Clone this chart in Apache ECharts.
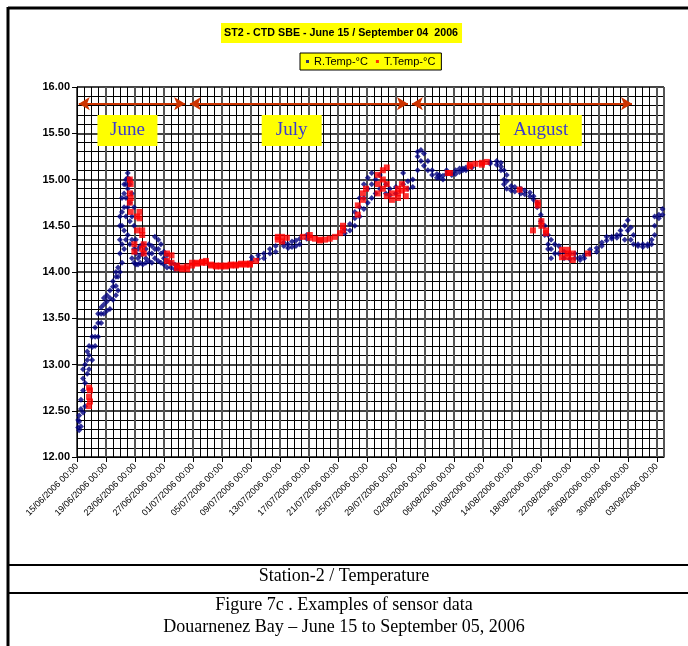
<!DOCTYPE html>
<html>
<head>
<meta charset="utf-8">
<script src="https://cdn.jsdelivr.net/npm/echarts@6/dist/echarts.min.js"></script>
<style>
html,body{margin:0;padding:0;background:#fff;}
#c{width:688px;height:646px;}
</style>
</head>
<body>
<div id="c"></div>
<script>
// ---- axis / labels ----
const startDate = '2006-06-15 00:00';
const endDate = '2006-09-04 00:00';
const yTicks = [12.0, 12.5, 13.0, 13.5, 14.0, 14.5, 15.0, 15.5, 16.0];
const seriesNames = ['R.Temp-°C', 'T.Temp-°C'];

// ---- R.Temp (blue) ----
const rTempTimes = [
 '2006-06-15 04:00','2006-06-15 07:00','2006-06-15 13:00','2006-06-15 20:00','2006-06-16 03:00','2006-06-16 10:00',
 '2006-06-16 16:00','2006-06-17 02:00','2006-06-17 12:00','2006-06-17 22:00','2006-06-18 08:00',
 '2006-06-18 17:00','2006-06-19 03:00','2006-06-19 13:00','2006-06-19 23:00','2006-06-20 09:00',
 '2006-06-20 16:00','2006-06-20 22:00','2006-06-21 05:00','2006-06-21 12:00','2006-06-21 18:00',
 '2006-06-22 00:00','2006-06-22 07:00','2006-06-22 14:00','2006-06-22 21:00','2006-06-23 03:00',
 '2006-06-23 10:00','2006-06-23 17:00','2006-06-24 02:00','2006-06-24 12:00','2006-06-24 22:00',
 '2006-06-25 08:00','2006-06-25 18:00','2006-06-26 05:00','2006-06-26 14:00','2006-06-27 00:00',
 '2006-06-27 10:00','2006-06-27 23:00','2006-06-28 12:00','2006-06-28 22:00',
 '2006-07-09 03:00','2006-07-10 00:00','2006-07-10 19:00','2006-07-11 15:00','2006-07-12 10:00',
 '2006-07-13 13:00','2006-07-14 03:00','2006-07-14 16:00','2006-07-15 05:00','2006-07-15 18:00','2006-07-16 17:00','2006-07-21 23:00',
 '2006-07-22 16:00','2006-07-23 08:00','2006-07-24 00:00','2006-07-24 14:00','2006-07-25 03:00',
 '2006-07-25 16:00','2006-07-26 05:00','2006-07-26 19:00','2006-07-27 15:00','2006-07-28 04:00',
 '2006-07-29 00:00','2006-07-30 00:00','2006-07-30 16:00','2006-07-31 08:00','2006-08-01 00:00',
 '2006-08-01 11:00','2006-08-01 21:00','2006-08-02 10:00','2006-08-03 00:00','2006-08-03 16:00',
 '2006-08-04 00:00','2006-08-04 12:00','2006-08-05 00:00','2006-08-05 17:00','2006-08-06 06:00','2006-08-06 19:00','2006-08-07 06:00','2006-08-07 16:00','2006-08-08 12:00',
 '2006-08-11 00:00','2006-08-11 22:00','2006-08-12 12:00','2006-08-12 22:00','2006-08-13 07:00',
 '2006-08-13 22:00','2006-08-14 10:00','2006-08-15 06:00','2006-08-15 19:00','2006-08-16 12:00','2006-08-17 00:00',
 '2006-08-17 12:00','2006-08-18 00:00','2006-08-18 13:00','2006-08-19 00:00','2006-08-19 10:00',
 '2006-08-19 22:00','2006-08-20 12:00','2006-08-21 05:00','2006-08-22 00:00','2006-08-22 17:00',
 '2006-08-23 10:00','2006-08-24 00:00','2006-08-24 19:00','2006-08-25 17:00','2006-08-26 10:00',
 '2006-08-27 02:00','2006-08-27 19:00','2006-08-28 12:00','2006-08-29 00:00','2006-08-29 14:00',
 '2006-08-30 00:00','2006-08-30 10:00','2006-08-30 19:00','2006-08-31 10:00','2006-09-01 02:00',
 '2006-09-01 18:00','2006-09-02 07:00','2006-09-02 17:00','2006-09-03 07:00','2006-09-03 19:00'
];
const rTempValues = [
 [12.32,12.4],[12.29,12.38,12.45],[12.33,12.52,12.62],[12.48,12.72,12.85,12.95],[12.55,12.8,13.0],[12.9,13.05,13.14],
 [12.95,13.1,13.2],[13.05,13.19,13.3],[13.2,13.3,13.4],[13.3,13.45,13.55],[13.45,13.55,13.62],
 [13.55,13.65,13.72],[13.58,13.68,13.75],[13.6,13.72,13.8],[13.7,13.84,13.9],[13.75,13.85,13.95,14.0],
 [13.8,13.95,14.05],[14.0,14.2,14.35,14.5,14.6],[14.1,14.3,14.5,14.65,14.8],[14.25,14.45,14.7,14.85,14.95],[14.35,14.6,14.8,14.95,15.0],
 [14.4,14.7,14.9,15.02,15.07],[14.3,14.55,14.75,14.95,15.0],[14.15,14.35,14.6,14.85],[14.1,14.25,14.5,14.7],[14.08,14.2,14.35],
 [14.08,14.15,14.25],[14.1,14.18,14.28],[14.08,14.2,14.3],[14.1,14.15,14.25],[14.12,14.2,14.3],
 [14.1,14.2,14.28],[14.15,14.25,14.38],[14.12,14.25,14.35],[14.1,14.2,14.3],[14.08,14.15,14.22],
 [14.05,14.12,14.18],[14.05,14.1],[14.03,14.08],[14.04,14.06],
 [14.12,14.16],[14.14,14.18],[14.15,14.2],[14.2,14.25],[14.22,14.28],
 [14.28,14.32],[14.26,14.3],[14.27,14.33],[14.28,14.34],[14.3,14.36],[14.36,14.4],[14.42,14.46],
 [14.45,14.52],[14.5,14.58,14.65],[14.6,14.7,14.8],[14.68,14.8,14.95],[14.75,14.9,15.02],
 [14.8,14.95,15.07],[14.85,15.0],[14.9,15.05],[14.85,14.95],[14.83,14.9],
 [14.85,14.92],[14.95,15.07],[14.9,14.98],[14.92,15.0],[15.1,15.25,15.3],
 [15.2,15.32],[15.15,15.28],[15.1,15.2],[15.05,15.1],[15.02,15.06],
 [15.02,15.05],[15.0,15.04],[15.06,15.1],[15.05,15.07],[15.06,15.1],[15.08,15.12],[15.1,15.12],[15.1,15.13],[15.13],
 [15.17,15.19],[15.16,15.2],[15.1,15.14,15.18],[14.95,15.0,15.1],[14.9,14.98,15.05],
 [14.88,14.93],[14.87,14.92],[14.85,14.9],[14.84,14.88],[14.82,14.86],[14.78,14.82],
 [14.7,14.75],[14.55,14.62],[14.4,14.5],[14.25,14.3,14.4],[14.15,14.25,14.35],
 [14.2,14.3],[14.2,14.28],[14.15,14.22],[14.14,14.2],[14.15,14.2],
 [14.13,14.16],[14.15,14.18],[14.2,14.24],[14.22,14.26],[14.28,14.32],
 [14.34,14.38],[14.36,14.38],[14.37,14.4],[14.4,14.45],[14.35,14.5],
 [14.45,14.56],[14.35,14.48],[14.3,14.4],[14.28,14.3],[14.27,14.3],
 [14.28,14.3],[14.3,14.35],[14.4,14.5,14.6],[14.58,14.62],[14.62,14.68]
];

// ---- T.Temp (red) ----
const tTempTimes = [
 '2006-06-16 16:00','2006-06-16 19:00','2006-06-22 07:00','2006-06-22 10:00','2006-06-22 22:00',
 '2006-06-23 07:00','2006-06-23 15:00','2006-06-24 00:00','2006-06-24 05:00','2006-06-27 10:00',
 '2006-06-28 01:00','2006-06-28 19:00','2006-06-29 12:00','2006-06-30 05:00','2006-06-30 21:00',
 '2006-07-01 13:00','2006-07-02 06:00','2006-07-02 19:00','2006-07-03 12:00','2006-07-04 04:00',
 '2006-07-04 20:00','2006-07-05 13:00','2006-07-06 05:00','2006-07-06 22:00','2006-07-07 15:00',
 '2006-07-08 07:00','2006-07-08 21:00','2006-07-09 17:00','2006-07-12 17:00','2006-07-13 07:00',
 '2006-07-13 23:00','2006-07-16 04:00','2006-07-17 03:00','2006-07-17 20:00','2006-07-18 12:00',
 '2006-07-19 05:00','2006-07-19 21:00','2006-07-20 14:00','2006-07-21 07:00','2006-07-21 17:00',
 '2006-07-23 18:00','2006-07-24 11:00','2006-07-24 21:00','2006-07-26 12:00','2006-07-27 05:00',
 '2006-07-27 18:00','2006-07-28 11:00','2006-07-29 07:00','2006-07-29 20:00','2006-07-30 09:00',
 '2006-08-05 04:00','2006-08-05 11:00','2006-08-08 05:00','2006-08-09 00:00','2006-08-09 21:00',
 '2006-08-10 13:00','2006-08-15 02:00','2006-08-16 22:00','2006-08-17 14:00','2006-08-18 02:00',
 '2006-08-18 17:00','2006-08-20 22:00','2006-08-21 17:00','2006-08-22 10:00','2006-08-24 12:00'
];
const tTempValues = [
 [12.55,12.65,12.75],[12.6,12.72],[14.75,14.85,15.0],[14.65,14.8,14.95],[14.22,14.3],
 [14.45,14.6],[14.58,14.65],[14.25,14.4,14.45],[14.2,14.3],[14.12,14.2],
 [14.1,14.18],[14.04,14.07],[14.05,14.03],[14.03,14.06],[14.07,14.1],
 [14.09,14.1],[14.11,14.1],[14.12,14.1],[14.07,14.08],[14.06,14.07],
 [14.06,14.07],[14.06,14.07],[14.07,14.08],[14.08,14.07],[14.09,14.08],
 [14.08,14.09],[14.09,14.08],[14.12],[14.35,14.38],[14.38,14.33],
 [14.37],[14.38],[14.4,14.37],[14.36],[14.35,14.34],
 [14.35],[14.36],[14.38],[14.42],[14.5,14.45],
 [14.72,14.62],[14.78,14.85],[14.9],[15.05,14.95,14.85],[15.1,15.0,14.9],
 [15.13,14.95,14.82],[14.78,14.85],[14.85,14.8,14.9],[14.88,14.95],[14.82,14.9],
 [15.07],[15.07],[15.16,15.14],[15.17],[15.18,15.16],
 [15.19],[14.89],[14.45],[14.75,14.72],[14.55,14.5],
 [14.45,14.42],[14.24,14.16],[14.2,14.16,14.24],[14.2,14.13],[14.2]
];

// ---- month annotations ----
const monthNames = ['June', 'July', 'August'];
const monthArrowFrom = ['2006-06-15 06:00', '2006-06-30 14:00', '2006-07-31 05:00'];
const monthArrowTo = ['2006-06-29 22:00', '2006-07-30 16:00', '2006-08-30 14:00'];
const monthArrowLevel = 15.82;
const monthLabelAt = ['2006-06-21 23:00', '2006-07-14 15:00', '2006-08-18 00:00'];
const monthLabelLevel = 15.53;

// ---- helpers ----
const START = Date.parse(startDate.replace(' ', 'T') + ':00Z');
function dayOf(s) { return (Date.parse(s.replace(' ', 'T') + ':00Z') - START) / 86400000; }
function pad(n) { return n < 10 ? '0' + n : '' + n; }
function dayLabel(v) {
  const d = new Date(START + Math.round(v * 86400000));
  return pad(d.getUTCDate()) + '/' + pad(d.getUTCMonth() + 1) + '/' + d.getUTCFullYear() + ' 00:00';
}
function build(times, vals) {
  const out = [];
  times.forEach((t, i) => vals[i].forEach(v => out.push([dayOf(t), v])));
  return out;
}
const rData = build(rTempTimes, rTempValues);
const tData = build(tTempTimes, tTempValues);
const xMax = dayOf(endDate);

const chart = echarts.init(document.getElementById('c'), null, { renderer: 'canvas' });
const arrowLines = monthNames.map((m, i) => [
  { coord: [dayOf(monthArrowFrom[i]), monthArrowLevel] },
  { coord: [dayOf(monthArrowTo[i]), monthArrowLevel] }
]);
const monthPoints = monthNames.map((m, i) => ({
  name: m,
  coord: [dayOf(monthLabelAt[i]), monthLabelLevel],
  symbolSize: [m === 'August' ? 82 : 60, 31]
}));

chart.setOption({
  animation: false,
  backgroundColor: '#fff',
  title: {
    text: 'ST2 - CTD SBE - June 15 / September 04  2006',
    left: 221, top: 23,
    backgroundColor: '#ffff00',
    padding: [5, 4, 4, 3],
    textStyle: { fontFamily: 'Arial, Liberation Sans', fontWeight: 'bold', fontSize: 10.7, color: '#000' }
  },
  legend: {
    data: seriesNames,
    left: 300, top: 53,
    backgroundColor: '#ffff00',
    borderColor: '#000', borderWidth: 1,
    padding: [3, 6, 3, 6],
    icon: 'rect', itemWidth: 3, itemHeight: 3, itemGap: 8,
    textStyle: { fontFamily: 'Arial, Liberation Sans', fontSize: 11, color: '#000' }
  },
  grid: {
    left: 77, right: 24, top: 87, bottom: 189,
    show: true, borderColor: '#000', borderWidth: 1, backgroundColor: '#fff'
  },
  xAxis: {
    type: 'value', min: 0, max: xMax, interval: 4,
    axisLine: { lineStyle: { color: '#000', width: 1 } },
    axisTick: { show: true, length: 5, lineStyle: { color: '#000' } },
    axisLabel: {
      rotate: 45, fontSize: 9, fontFamily: 'Arial, Liberation Sans', color: '#000', margin: 8,
      formatter: v => dayLabel(v), showMaxLabel: false
    },
    splitLine: { show: true, lineStyle: { color: '#555', width: 2 } },
    minorTick: { show: false, splitNumber: 4 },
    minorSplitLine: { show: true, lineStyle: { color: '#000', width: 1 } }
  },
  yAxis: {
    type: 'value', min: yTicks[0], max: yTicks[yTicks.length - 1], interval: 0.5,
    axisLine: { show: true, lineStyle: { color: '#000', width: 1 } },
    axisTick: { show: true, length: 5, lineStyle: { color: '#000' } },
    axisLabel: {
      fontSize: 11, fontWeight: 'bold', fontFamily: 'Arial, Liberation Sans', color: '#000', margin: 7,
      formatter: v => v.toFixed(2)
    },
    splitLine: { show: true, lineStyle: { color: '#444', width: 2 } },
    minorTick: { show: false, splitNumber: 5 },
    minorSplitLine: { show: true, lineStyle: { color: '#000', width: 1 } }
  },
  series: [
    {
      name: seriesNames[0], type: 'scatter', data: rData,
      symbol: 'diamond', symbolSize: 6,
      itemStyle: { color: '#000080' }, z: 2
    },
    {
      name: seriesNames[1], type: 'scatter', data: tData,
      symbol: 'rect', symbolSize: 6,
      itemStyle: { color: '#ff0000' }, z: 3,
      markLine: {
        silent: true, symbol: ['arrow', 'arrow'], symbolSize: [10, 11],
        lineStyle: { color: '#cc3300', width: 2, type: 'solid' },
        label: { show: false },
        data: arrowLines
      },
      markPoint: {
        silent: true, symbol: 'rect',
        itemStyle: { color: '#ffff00' },
        label: {
          show: true, position: 'inside', formatter: '{b}',
          fontFamily: 'Liberation Serif, Times New Roman, serif', fontSize: 19, color: '#3c3ccc'
        },
        data: monthPoints
      }
    }
  ],
  graphic: [
    { type: 'line', shape: { x1: 8, y1: 8, x2: 688, y2: 8 }, style: { stroke: '#000', lineWidth: 3 } },
    { type: 'line', shape: { x1: 8, y1: 7, x2: 8, y2: 646 }, style: { stroke: '#000', lineWidth: 3 } },
    { type: 'line', shape: { x1: 8, y1: 565, x2: 688, y2: 565 }, style: { stroke: '#000', lineWidth: 2 } },
    { type: 'line', shape: { x1: 8, y1: 593, x2: 688, y2: 593 }, style: { stroke: '#000', lineWidth: 2 } },
    { type: 'text', left: 'center', top: 567, style: { text: 'Station-2 / Temperature', font: '18px "Liberation Serif", "Times New Roman", serif', fill: '#000' } },
    { type: 'text', left: 'center', top: 596, style: { text: 'Figure 7c . Examples of sensor data', font: '18px "Liberation Serif", "Times New Roman", serif', fill: '#000' } },
    { type: 'text', left: 'center', top: 618, style: { text: 'Douarnenez Bay – June 15 to September 05, 2006', font: '18px "Liberation Serif", "Times New Roman", serif', fill: '#000' } }
  ]
});
</script>
</body>
</html>
